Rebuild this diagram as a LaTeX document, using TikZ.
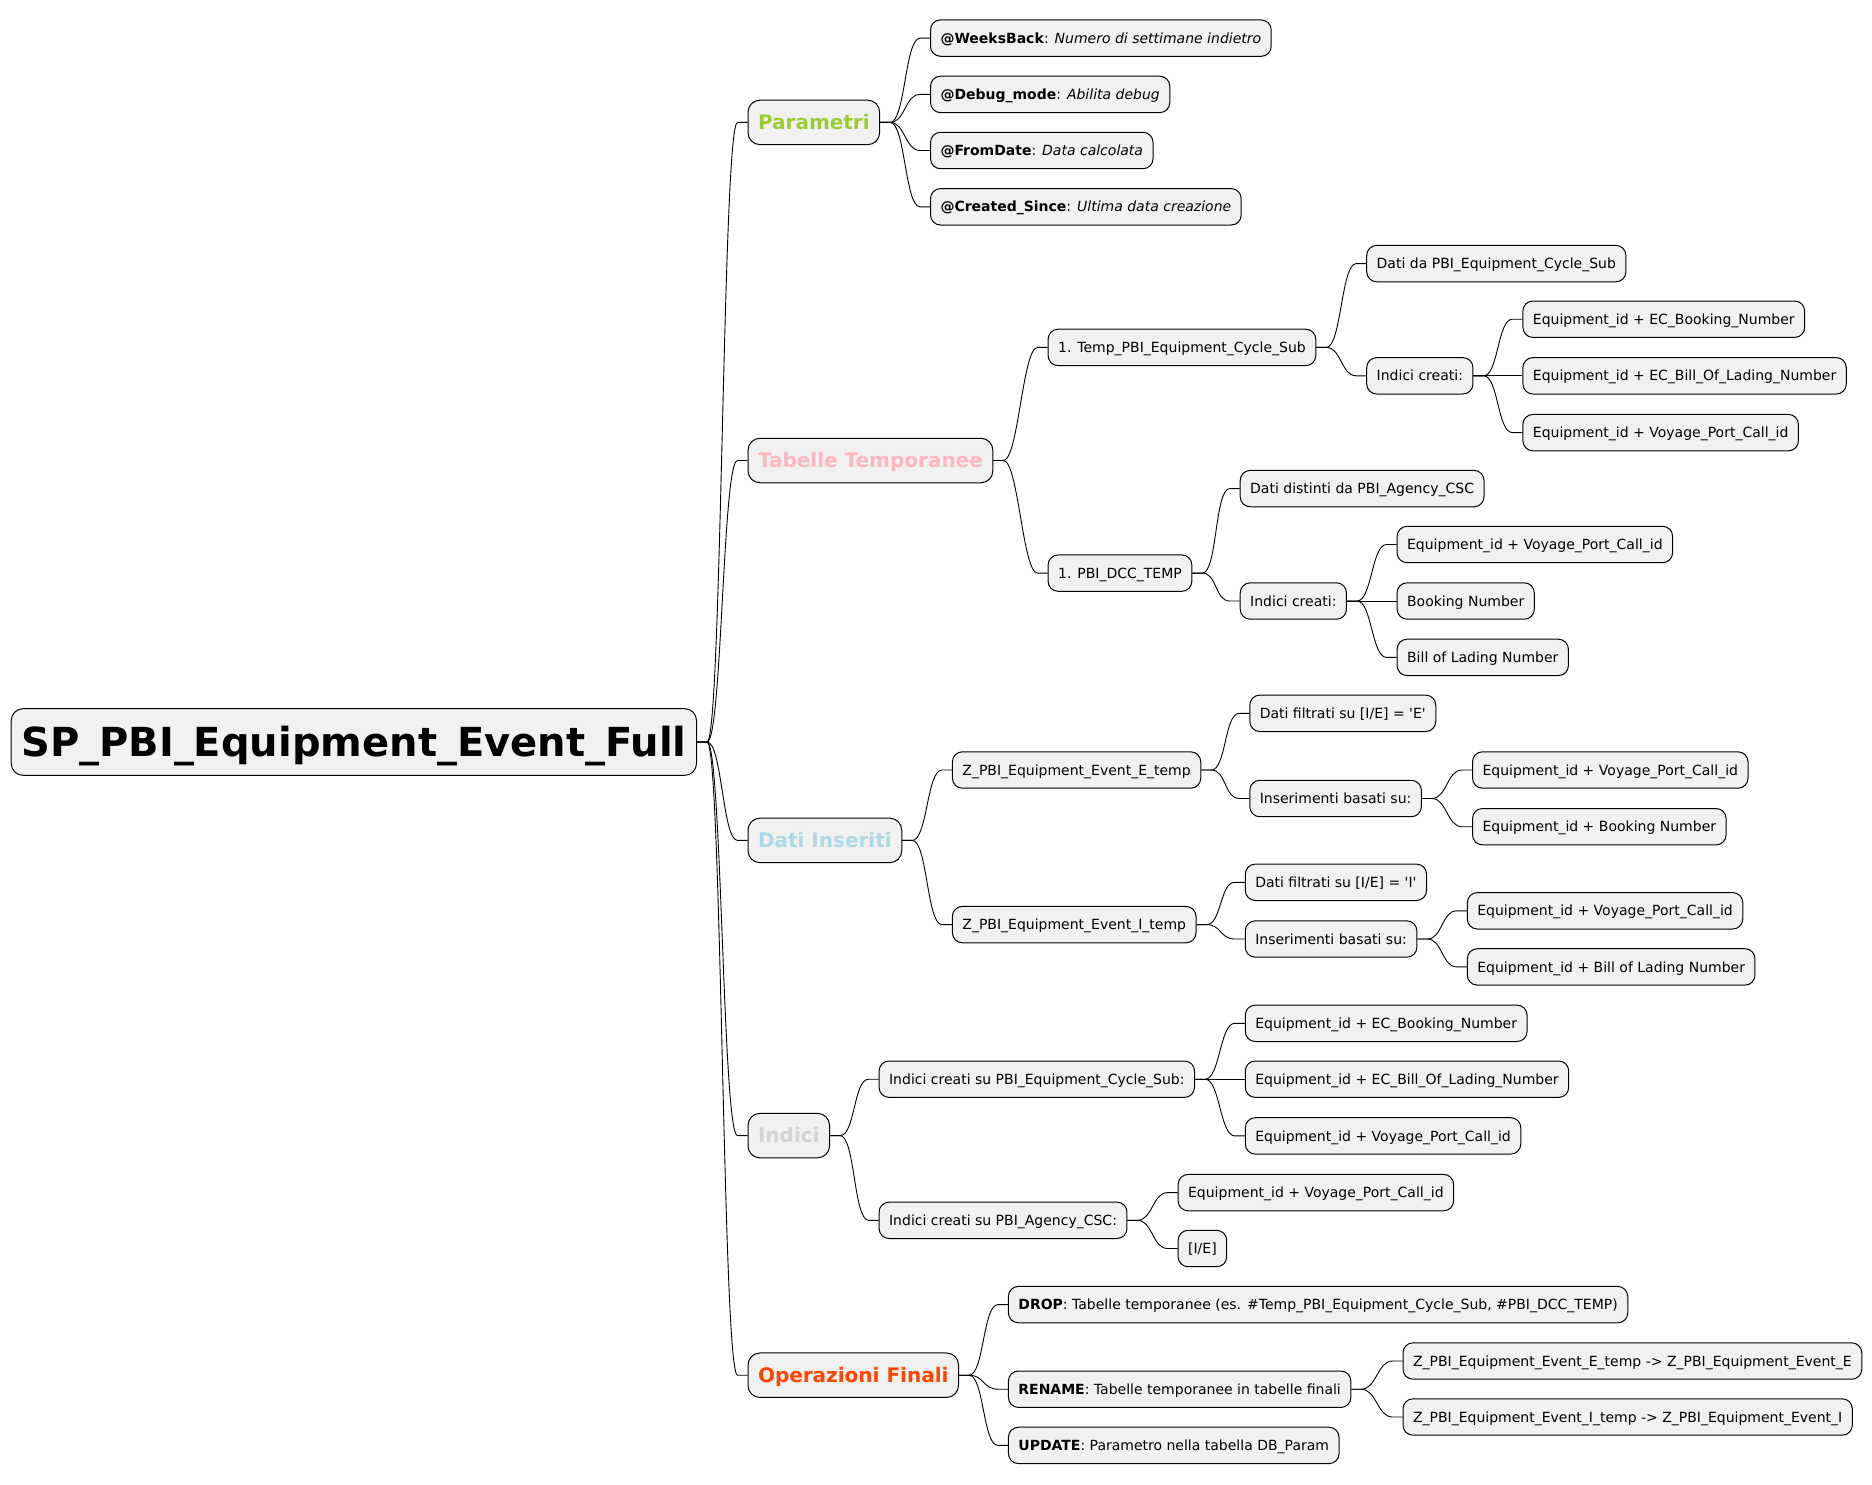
\documentclass[tikz,border=0pt]{standalone}
\usepackage{fontspec}
\setmainfont{DejaVu Sans}
\usetikzlibrary{calc}
\definecolor{nfill}{HTML}{F1F1F1}
\definecolor{cpar}{HTML}{9ACD32}
\definecolor{ctab}{HTML}{FFB6C1}
\definecolor{cdat}{HTML}{ADD8E6}
\definecolor{cind}{HTML}{D3D3D3}
\definecolor{cop}{HTML}{FF4500}
\newcommand\lnk[2]{\draw[conn] (#1.east) -- ++(10,0) .. controls +(15,0) and ($(#2.west)+(-25,0)$) .. ($(#2.west)+(-10,0)$) -- (#2.west);}
\newcommand\us{\_}
\newcommand\sq{\textquotesingle}
\begin{document}
\begin{tikzpicture}[x=1pt,y=-1pt,
  nd/.style={draw=black, line width=1pt, fill=nfill, rounded corners=10pt, inner xsep=10pt, inner ysep=0pt, minimum height=36.4pt, anchor=west, font=\fontsize{14}{17}\selectfont, text height=13.5pt, text depth=3.3pt},
  lone/.style={nd, minimum height=44.5pt, rounded corners=12pt, font=\bfseries\fontsize{20}{24}\selectfont, text height=19.3pt, text depth=4.7pt},
  rootnd/.style={nd, minimum height=66.7pt, rounded corners=12pt, font=\bfseries\fontsize{40}{48}\selectfont, text height=38.7pt, text depth=9.5pt},
  conn/.style={draw=black, line width=0.9pt}]
\useasboundingbox (0,0) rectangle (1872,1484);
% root
\node[rootnd] (root) at (10.7,742) {SP\_PBI\_Equipment\_Event\_Full};
% level 1
\node[lone, text=cpar] (p) at (747.5,122.4) {Parametri};
\node[lone, text=ctab] (t) at (747.5,460.5) {Tabelle Temporanee};
\node[lone, text=cdat] (d) at (747.5,840.4) {Dati Inseriti};
\node[lone, text=cind] (i) at (747.5,1135.6) {Indici};
\node[lone, text=cop] (o) at (747.5,1375.2) {Operazioni Finali};
% Parametri
\node[nd] (p1) at (930,38.1) {\textbf{@WeeksBack}: \textit{Numero di settimane indietro}};
\node[nd] (p2) at (930,94.4) {\textbf{@Debug\_mode}: \textit{Abilita debug}};
\node[nd] (p3) at (930,150.5) {\textbf{@FromDate}: \textit{Data calcolata}};
\node[nd] (p4) at (930,206.8) {\textbf{@Created\_Since}: \textit{Ultima data creazione}};
% Tabelle
\node[nd] (t1) at (1047.6,347.4) {1. Temp\_PBI\_Equipment\_Cycle\_Sub};
\node[nd] (t1a) at (1366.2,263.6) {Dati da PBI\_Equipment\_Cycle\_Sub};
\node[nd] (t1b) at (1366.2,375.8) {Indici creati:};
\node[nd] (t1b1) at (1522.4,319.2) {Equipment\_id + EC\_Booking\_Number};
\node[nd] (t1b2) at (1522.4,375.8) {Equipment\_id + EC\_Bill\_Of\_Lading\_Number};
\node[nd] (t1b3) at (1522.4,432.6) {Equipment\_id + Voyage\_Port\_Call\_id};
\node[nd] (t2) at (1047.6,573.1) {1. PBI\_DCC\_TEMP};
\node[nd] (t2a) at (1239.7,488.6) {Dati distinti da PBI\_Agency\_CSC};
\node[nd] (t2b) at (1239.7,601) {Indici creati:};
\node[nd] (t2b1) at (1396.6,544.5) {Equipment\_id + Voyage\_Port\_Call\_id};
\node[nd] (t2b2) at (1396.6,601) {Booking Number};
\node[nd] (t2b3) at (1396.6,657.4) {Bill of Lading Number};
% Dati Inseriti
\node[nd] (d1) at (951.9,770) {Z\_PBI\_Equipment\_Event\_E\_temp};
\node[nd] (d1a) at (1249.3,713.3) {Dati filtrati su [I/E] = \sq E\sq};
\node[nd] (d1b) at (1249.3,798.5) {Inserimenti basati su:};
\node[nd] (d1b1) at (1472,770) {Equipment\_id + Voyage\_Port\_Call\_id};
\node[nd] (d1b2) at (1472,826.7) {Equipment\_id + Booking Number};
\node[nd] (d2) at (951.9,924.6) {Z\_PBI\_Equipment\_Event\_I\_temp};
\node[nd] (d2a) at (1244.8,882.3) {Dati filtrati su [I/E] = \sq I\sq};
\node[nd] (d2b) at (1244.8,939) {Inserimenti basati su:};
\node[nd] (d2b1) at (1466.8,910.8) {Equipment\_id + Voyage\_Port\_Call\_id};
\node[nd] (d2b2) at (1466.8,966.9) {Equipment\_id + Bill of Lading Number};
% Indici
\node[nd] (i1) at (878.6,1079.2) {Indici creati su PBI\_Equipment\_Cycle\_Sub:};
\node[nd] (i1a) at (1244.8,1023.3) {Equipment\_id + EC\_Booking\_Number};
\node[nd] (i1b) at (1244.8,1079.2) {Equipment\_id + EC\_Bill\_Of\_Lading\_Number};
\node[nd] (i1c) at (1244.8,1135.9) {Equipment\_id + Voyage\_Port\_Call\_id};
\node[nd] (i2) at (878.6,1220.3) {Indici creati su PBI\_Agency\_CSC:};
\node[nd] (i2a) at (1177.6,1192.6) {Equipment\_id + Voyage\_Port\_Call\_id};
\node[nd] (i2b) at (1177.6,1248.5) {[I/E]};
% Operazioni
\node[nd] (o1) at (1007.9,1304.6) {\textbf{DROP}: Tabelle temporanee (es. \#Temp\_PBI\_Equipment\_Cycle\_Sub, \#PBI\_DCC\_TEMP)};
\node[nd] (o2) at (1007.9,1389.2) {\textbf{RENAME}: Tabelle temporanee in tabelle finali};
\node[nd] (o2a) at (1402.5,1361) {Z\_PBI\_Equipment\_Event\_E\_temp -> Z\_PBI\_Equipment\_Event\_E};
\node[nd] (o2b) at (1402.5,1417) {Z\_PBI\_Equipment\_Event\_I\_temp -> Z\_PBI\_Equipment\_Event\_I};
\node[nd] (o3) at (1007.9,1445.4) {\textbf{UPDATE}: Parametro nella tabella DB\_Param};
% connectors
\lnk{root}{p}\lnk{root}{t}\lnk{root}{d}\lnk{root}{i}\lnk{root}{o}
\lnk{p}{p1}\lnk{p}{p2}\lnk{p}{p3}\lnk{p}{p4}
\lnk{t}{t1}\lnk{t}{t2}
\lnk{t1}{t1a}\lnk{t1}{t1b}
\lnk{t1b}{t1b1}\lnk{t1b}{t1b2}\lnk{t1b}{t1b3}
\lnk{t2}{t2a}\lnk{t2}{t2b}
\lnk{t2b}{t2b1}\lnk{t2b}{t2b2}\lnk{t2b}{t2b3}
\lnk{d}{d1}\lnk{d}{d2}
\lnk{d1}{d1a}\lnk{d1}{d1b}
\lnk{d1b}{d1b1}\lnk{d1b}{d1b2}
\lnk{d2}{d2a}\lnk{d2}{d2b}
\lnk{d2b}{d2b1}\lnk{d2b}{d2b2}
\lnk{i}{i1}\lnk{i}{i2}
\lnk{i1}{i1a}\lnk{i1}{i1b}\lnk{i1}{i1c}
\lnk{i2}{i2a}\lnk{i2}{i2b}
\lnk{o}{o1}\lnk{o}{o2}\lnk{o}{o3}
\lnk{o2}{o2a}\lnk{o2}{o2b}
\end{tikzpicture}
\end{document}
